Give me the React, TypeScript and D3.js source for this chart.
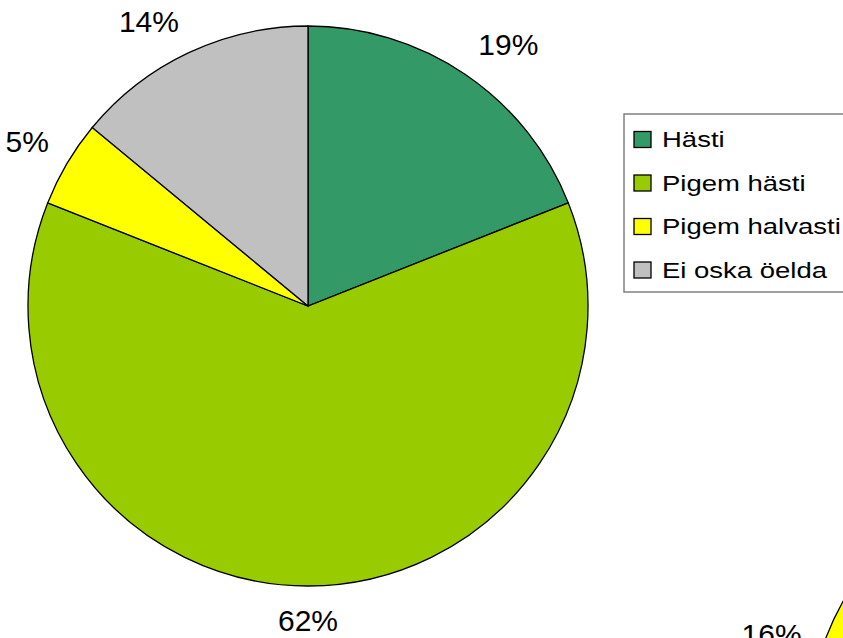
import React from "react";
import * as d3 from "d3";

const categories = ["Hästi", "Pigem hästi", "Pigem halvasti", "Ei oska öelda"];
const values = [19, 62, 5, 14];
const colors = ["#339966", "#99CC00", "#FFFF00", "#C0C0C0"];
const labels = ["19%", "62%", "5%", "14%"];

// second (cut-off) chart: only one slice visible
const partialValues = [16];
const partialLabels = ["16%"];
const partialColors = ["#FFFF00"];

const W = 843;
const H = 638;
const FS = 30;

function labelPos(cx: number, cy: number, r: number, a: number, text: string) {
  const d = r + 23;
  const s = Math.sin(a);
  const c = Math.cos(a);
  const px = cx + s * d;
  const py = cy - c * d;
  const w = text.length * FS * 0.667;
  const h = 22;
  const sx = Math.abs(s) < 0.1 ? 0 : Math.sign(s) * Math.min(1, 0.6 + Math.abs(c));
  const sy = Math.abs(c) < 0.1 ? 0 : -Math.sign(c);
  return { x: px + (sx * w) / 2, y: py + (sy * h) / 2 + FS * 0.358 };
}

export default function App() {
  const cx = 308;
  const cy = 306;
  const r = 280;
  const pie = d3.pie<number>().sort(null).value((d) => d);
  const arcs = pie(values);
  const arcGen = d3.arc<d3.PieArcDatum<number>>().innerRadius(0).outerRadius(r);

  // partial pie
  const pcx = 1087;
  const pcy = 739;
  const pr = 280;
  const pMid = (288 * Math.PI) / 180;
  const pSpan = (partialValues[0] / 100) * 2 * Math.PI;
  const pArcs = d3
    .pie<number>()
    .sort(null)
    .value((d) => d)
    .startAngle(pMid - pSpan / 2)
    .endAngle(pMid + pSpan / 2)(partialValues);
  const pArcGen = d3.arc<d3.PieArcDatum<number>>().innerRadius(0).outerRadius(pr);

  const legX = 624;
  const legY = 114;
  const rowH = 43.5;

  return (
    <svg
      width={W}
      height={H}
      style={{ position: "absolute", left: 0, top: 0, background: "#fff" }}
      fontFamily="Liberation Sans, Arial, sans-serif"
    >
      <g transform={`translate(${cx},${cy})`}>
        {arcs.map((a, i) => (
          <path key={i} d={arcGen(a) || ""} fill={colors[i]} stroke="#000" strokeWidth={1.3} />
        ))}
      </g>
      {arcs.map((a, i) => {
        const m = (a.startAngle + a.endAngle) / 2;
        const p = labelPos(cx, cy, r, m, labels[i]);
        return (
          <text key={i} x={p.x} y={p.y} fontSize={FS} textAnchor="middle" fill="#000">
            {labels[i]}
          </text>
        );
      })}

      <g transform={`translate(${pcx},${pcy})`}>
        {pArcs.map((a, i) => (
          <path key={i} d={pArcGen(a) || ""} fill={partialColors[i]} stroke="#000" strokeWidth={1.3} />
        ))}
      </g>
      {pArcs.map((a, i) => {
        const m = (a.startAngle + a.endAngle) / 2;
        const p = labelPos(pcx, pcy, pr, m, partialLabels[i]);
        return (
          <text key={i} x={p.x} y={p.y} fontSize={FS} textAnchor="middle" fill="#000">
            {partialLabels[i]}
          </text>
        );
      })}

      <rect x={legX} y={legY} width={260} height={178} fill="#fff" stroke="#808080" strokeWidth={1.5} />
      {categories.map((c, i) => {
        const by = legY + 33 + i * rowH;
        return (
          <g key={c}>
            <rect x={634} y={by - 15.5} width={17} height={16} fill={colors[i]} stroke="#000" strokeWidth={1.3} />
            <text transform={`translate(662,${by}) scale(1.25,1)`} fontSize={22} fill="#000">
              {c}
            </text>
          </g>
        );
      })}
    </svg>
  );
}
